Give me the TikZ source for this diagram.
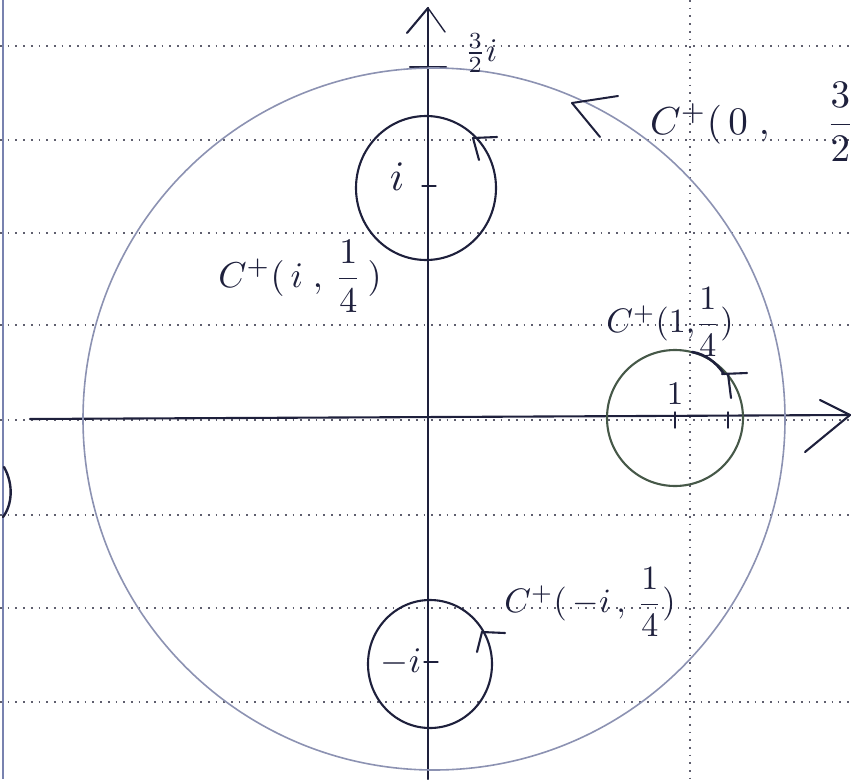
\documentclass[tikz,border=0pt]{standalone}
\usepackage{graphicx}
\usepackage{amsmath}
\definecolor{rulec}{RGB}{95,95,110}
\definecolor{inkc}{RGB}{30,32,60}
\definecolor{pencilc}{RGB}{140,146,178}
\definecolor{greenink}{RGB}{70,88,72}
\definecolor{marginc}{RGB}{120,130,175}
\newcommand{\hlab}[2][3]{\scalebox{#1}{$#2$}}
\tikzset{
  ruled/.style={line width=1.7pt, dash pattern=on 1.7pt off 6pt, color=rulec},
  ink/.style={line width=2.1pt, color=inkc, line cap=round, line join=round},
  pencil/.style={line width=1.6pt, color=pencilc, line cap=round},
  lbl/.style={inner sep=0pt, text=inkc},
}
\begin{document}
\begin{tikzpicture}[x=1pt,y=-1pt]
\useasboundingbox (0,0) rectangle (851,779);
\clip (0,0) rectangle (851,779);
% ruled paper
\foreach \yy in {46,140,233,325,420,515,608,702}
  \draw[ruled] (0,\yy) -- (851,\yy);
\draw[ruled] (690,0) -- (690,779);
\draw[line width=2pt, color=marginc] (3,0) -- (3,779);
\draw[ink, line width=2.4pt] (4,467) .. controls (14,485) and (12,505) .. (3,517);
% axes
\coordinate (ytip) at (428,8);
\coordinate (ybot) at (428,779);
\coordinate (xtip) at (850,415);
\coordinate (xleft) at (30,419);
\draw[ink] (ybot) -- (ytip);
\draw[ink] (ytip) -- (407,33);
\draw[ink, line width=1.4pt] (ytip) -- (445,32);
\draw[ink] (xleft) -- (xtip);
\draw[ink] (xtip) -- (820,400);
\draw[ink] (xtip) -- (805,452);
% ticks
\draw[ink] (410,67) -- (446,67);
\draw[ink, line width=1.4pt] (675,412) -- (675,428);
\draw[ink, line width=1.4pt] (728,412) -- (728,428);
\draw[ink, line width=1.2pt] (422,186) -- (436,186);
\draw[ink, line width=1.2pt] (424,662) -- (438,662);
% big circle C+(0,3/2)
\coordinate (O) at (434,419);
\draw[pencil] (O) circle[radius=351];
\draw[ink, line width=2pt] (572,103) -- (618,96);
\draw[ink, line width=2pt] (572,103) -- (600,137);
% circle at i
\coordinate (ci) at (426,188);
\draw[ink] (ci) circle[x radius=70, y radius=72];
\draw[ink] (473,138) -- (497,137);
\draw[ink] (473,138) -- (479,160);
% circle at 1
\coordinate (c1) at (675,418);
\draw[ink, color=greenink] (c1) circle[x radius=68, y radius=68];
\draw[ink, line width=2.6pt] (692,352) .. controls (705,354) and (716,362) .. (724,374);
\draw[ink] (722,374) -- (747,373);
\draw[ink] (728,374) -- (731,398);
% circle at -i
\coordinate (cmi) at (430,664);
\draw[ink] (cmi) circle[x radius=62, y radius=64];
\draw[ink] (482,632) -- (505,633);
\draw[ink] (482,632) -- (477,652);
% labels
\node[lbl] (li) at (397,177) {\hlab[4.2]{i}};
\node[lbl] (lone) at (675,394) {\hlab[3.3]{1}};
\node[lbl] (lmi) at (401,662) {\hlab[3.6]{-i}};
\node[lbl] (lthree) at (481,53) {\hlab[3.3]{\frac{3}{2}i}};
\node[lbl, anchor=west] (lbig) at (650,122) {\hlab[3.9]{C^{+}(\,0\;,\quad\;\dfrac{3}{2}\,)}};
\node[lbl] (lCi) at (300,276) {\hlab[3.6]{C^{+}(\,i\;,\,\dfrac{1}{4}\,)}};
\node[lbl] (lC1) at (670,322) {\hlab[3.4]{C^{+}(1,\!\dfrac{1}{4})}};
\node[lbl] (lCmi) at (590,602) {\hlab[3.4]{C^{+}(\,-i\,,\,\dfrac{1}{4})}};
\end{tikzpicture}
\end{document}
